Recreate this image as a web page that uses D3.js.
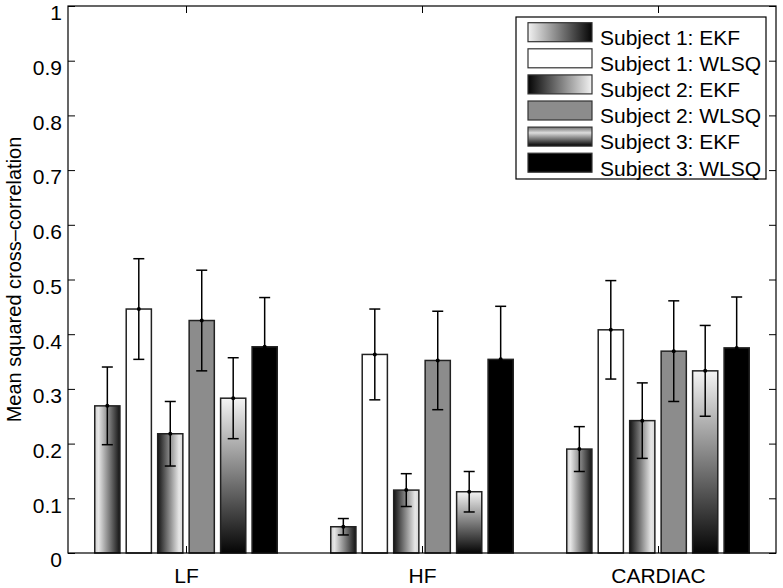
<!DOCTYPE html>
<html>
<head>
<meta charset="utf-8">
<script src="https://cdn.jsdelivr.net/npm/d3@7"></script>
<style>
  html, body { margin: 0; padding: 0; background: #fff; }
  svg { display: block; font-family: "Liberation Sans", Arial, Helvetica, sans-serif; }
</style>
</head>
<body>
<svg id="chart" width="783" height="588"></svg>
<script>
// ---- Data ----
const categories = ["LF", "HF", "CARDIAC"];
const seriesNames = ["Subject 1: EKF", "Subject 1: WLSQ", "Subject 2: EKF", "Subject 2: WLSQ", "Subject 3: EKF", "Subject 3: WLSQ"];
const s1EKF  = [0.269, 0.048, 0.190];
const s1WLSQ = [0.446, 0.363, 0.408];
const s2EKF  = [0.218, 0.115, 0.242];
const s2WLSQ = [0.425, 0.352, 0.369];
const s3EKF  = [0.283, 0.112, 0.333];
const s3WLSQ = [0.377, 0.354, 0.375];
const s1EKFErr  = [0.071, 0.015, 0.041];
const s1WLSQErr = [0.092, 0.083, 0.090];
const s2EKFErr  = [0.059, 0.030, 0.069];
const s2WLSQErr = [0.092, 0.090, 0.092];
const s3EKFErr  = [0.074, 0.037, 0.083];
const s3WLSQErr = [0.090, 0.097, 0.093];
const yTicks = [0, 0.1, 0.2, 0.3, 0.4, 0.5, 0.6, 0.7, 0.8, 0.9, 1];

const seriesValues = [s1EKF, s1WLSQ, s2EKF, s2WLSQ, s3EKF, s3WLSQ];
const seriesErrors = [s1EKFErr, s1WLSQErr, s2EKFErr, s2WLSQErr, s3EKFErr, s3WLSQErr];

// ---- Layout ----
const L = 68, R = 776, T = 6, B = 553;
const svg = d3.select("#chart");

const x = d3.scaleLinear().domain([0.5, categories.length + 0.5]).range([L, R]);
const y = d3.scaleLinear().domain([0, 1]).range([B, T]);

// ---- Gradients ----
const defs = svg.append("defs");
function grad(id, x2, y2, stops) {
  const g = defs.append("linearGradient").attr("id", id)
    .attr("x1", 0).attr("y1", 0).attr("x2", x2).attr("y2", y2);
  stops.forEach(s => g.append("stop").attr("offset", s[0]).attr("stop-color", s[1]));
}
grad("g1", 1, 0, [[0, "#d0d0d0"], [0.15, "#e6e6e6"], [1, "#141414"]]);
grad("g2", 1, 0, [[0, "#141414"], [0.85, "#e6e6e6"], [1, "#d8d8d8"]]);
grad("g3", 0, 1, [[0, "#f4f4f4"], [1, "#050505"]]);
grad("lg1", 1, 0, [[0, "#f2f2f2"], [1, "#050505"]]);
grad("lg2", 1, 0, [[0, "#050505"], [1, "#f2f2f2"]]);
grad("lg3", 0, 1, [[0, "#707070"], [0.3, "#dcdcdc"], [1, "#000000"]]);

const barFills = ["url(#g1)", "#ffffff", "url(#g2)", "#8c8c8c", "url(#g3)", "#000000"];
const legendFills = ["url(#lg1)", "#ffffff", "url(#lg2)", "#8c8c8c", "url(#lg3)", "#000000"];

// ---- Bars ----
const nS = seriesNames.length;
const pitch = 0.8 / nS;
const bw = pitch * 0.8;
const pxPerUnit = x(1) - x(0);

const barData = [];
seriesValues.forEach((vals, si) => {
  vals.forEach((v, ci) => {
    barData.push({ si, ci, v, e: seriesErrors[si][ci], cx: (ci + 1) + (si - (nS - 1) / 2) * pitch });
  });
});

svg.append("g").selectAll("rect").data(barData).join("rect")
  .attr("x", d => x(d.cx - bw / 2))
  .attr("width", bw * pxPerUnit)
  .attr("y", d => y(d.v))
  .attr("height", d => y(0) - y(d.v))
  .attr("fill", d => barFills[d.si])
  .attr("stroke", "#222")
  .attr("stroke-width", 1.5);

// ---- Error bars ----
const eg = svg.append("g").attr("stroke", "#000").attr("stroke-width", 1.5);
const capW = 11;
barData.forEach(d => {
  const cx = x(d.cx);
  eg.append("line").attr("x1", cx).attr("x2", cx).attr("y1", y(d.v + d.e)).attr("y2", y(d.v - d.e));
  eg.append("line").attr("x1", cx - capW / 2).attr("x2", cx + capW / 2).attr("y1", y(d.v + d.e)).attr("y2", y(d.v + d.e));
  eg.append("line").attr("x1", cx - capW / 2).attr("x2", cx + capW / 2).attr("y1", y(d.v - d.e)).attr("y2", y(d.v - d.e));
});
svg.append("g").selectAll("circle").data(barData).join("circle")
  .attr("cx", d => x(d.cx)).attr("cy", d => y(d.v)).attr("r", 2).attr("fill", "#000");

// ---- Axes ----
const fs = 21;
const yAxis = svg.append("g").attr("transform", `translate(${L},0)`)
  .call(d3.axisLeft(y).tickValues(yTicks).tickSize(-7).tickPadding(6).tickFormat(d => String(d)));
yAxis.selectAll("text").attr("font-size", fs).attr("font-family", null).attr("dy", "0.66em").attr("fill", "#000");

svg.append("g").attr("transform", `translate(${R},0)`)
  .call(d3.axisRight(y).tickValues(yTicks).tickSize(-7).tickFormat(""));

const xAxis = svg.append("g").attr("transform", `translate(0,${B})`)
  .call(d3.axisBottom(x).tickValues(d3.range(1, categories.length + 1)).tickSize(-7).tickPadding(15)
    .tickFormat(d => categories[d - 1]));
xAxis.selectAll("text").attr("font-size", fs).attr("font-family", null).attr("fill", "#000");

svg.append("g").attr("transform", `translate(0,${T})`)
  .call(d3.axisTop(x).tickValues(d3.range(1, categories.length + 1)).tickSize(-7).tickFormat(""));

svg.selectAll(".domain").remove();
svg.selectAll(".tick line").attr("stroke", "#000").attr("stroke-width", 1);

svg.append("rect").attr("x", L).attr("y", T).attr("width", R - L).attr("height", B - T)
  .attr("fill", "none").attr("stroke", "#000").attr("stroke-width", 1.2);

// ---- Y label ----
svg.append("text")
  .attr("transform", `translate(21,${(T + B) / 2}) rotate(-90)`)
  .attr("text-anchor", "middle")
  .attr("font-size", 20)
  .text("Mean squared cross\u2013correlation");

// ---- Legend ----
const lg = svg.append("g");
lg.append("rect").attr("x", 516).attr("y", 17).attr("width", 250).attr("height", 162)
  .attr("fill", "#fff").attr("stroke", "#000").attr("stroke-width", 1.2);
const rowH = 26.1;
seriesNames.forEach((name, i) => {
  lg.append("rect").attr("x", 528).attr("y", 22.7 + i * rowH).attr("width", 64).attr("height", 19)
    .attr("fill", legendFills[i]).attr("stroke", "#333").attr("stroke-width", 1.2);
  lg.append("text").attr("x", 600).attr("y", 45 + i * rowH).attr("font-size", fs).text(name);
});
</script>
</body>
</html>
